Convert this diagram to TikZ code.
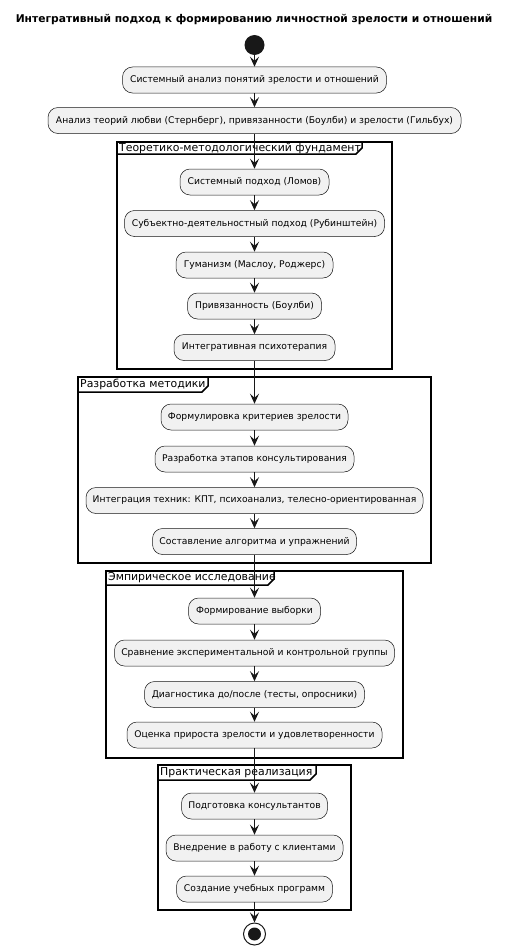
\documentclass[tikz,border=0pt]{standalone}
\usepackage{fontspec}
\setmainfont{DejaVu Sans}
\usetikzlibrary{arrows.meta}
\definecolor{boxfill}{HTML}{F1F1F1}
\definecolor{boxline}{HTML}{181818}
\begin{document}
\begin{tikzpicture}[x=1pt,y=-1pt,
  act/.style={draw=boxline,line width=0.5pt,fill=boxfill,rounded corners=10pt,
    minimum height=26pt,inner xsep=0pt,inner ysep=0pt,font=\fontsize{9.2}{11}\selectfont,anchor=center},
  flow/.style={draw=boxline,line width=1pt,-{Stealth[length=10pt,width=9pt,inset=4pt]}},
  frame/.style={draw=black,line width=1.5pt},
  glabel/.style={font=\fontsize{10.9}{13}\selectfont,anchor=west,inner sep=0pt}]
\useasboundingbox (0,0) rectangle (508,950);
\fill[white] (0,0) rectangle (508,950);
\node[font=\bfseries\fontsize{10.7}{13}\selectfont] (title) at (254,20) {Интегративный подход к формированию личностной зрелости и отношений};
\node[circle,fill=boxline,minimum size=20pt,inner sep=0pt] (start) at (254.5,45) {};
% groups
\draw[frame] (117,142) rectangle (392,369);
\draw[frame] (117,142) -- (362,142) -- (362,148) -- (356,154) -- (117,154);
\node[glabel] (g1) at (119,148.5) {Теоретико-методологический фундамент};
\draw[frame] (78,377) rectangle (431,563);
\draw[frame] (78,377) -- (208,377) -- (208,386) -- (202,392) -- (78,392);
\node[glabel] (g2) at (80,384.5) {Разработка методики};
\draw[frame] (106,571) rectangle (403,758);
\draw[frame] (106,571) -- (274,571) -- (274,579) -- (268,585) -- (106,585);
\node[glabel] (g3) at (108,578) {Эмпирическое исследование};
\draw[frame] (158,765) rectangle (351,910);
\draw[frame] (158,765) -- (316,765) -- (316,774) -- (310,780) -- (158,780);
\node[glabel] (g4) at (160,772.5) {Практическая реализация};
% activities
\node[act,minimum width=264pt] (n1) at (254.5,80) {Системный анализ понятий зрелости и отношений};
\node[act,minimum width=413pt] (n2) at (254.5,120.5) {Анализ теорий любви (Стернберг), привязанности (Боулби) и зрелости (Гильбух)};
\node[act,minimum width=149pt] (a1) at (254.5,182) {Системный подход (Ломов)};
\node[act,minimum width=260pt] (a2) at (254.5,223.5) {Субъектно-деятельностный подход (Рубинштейн)};
\node[act,minimum width=157pt] (a3) at (254.5,265) {Гуманизм (Маслоу, Роджерс)};
\node[act,minimum width=134pt] (a4) at (254.5,306) {Привязанность (Боулби)};
\node[act,minimum width=161pt] (a5) at (254.5,347.5) {Интегративная психотерапия};
\node[act,minimum width=187pt] (b1) at (254.5,417) {Формулировка критериев зрелости};
\node[act,minimum width=199pt] (b2) at (254.5,459) {Разработка этапов консультирования};
\node[act,minimum width=337pt] (b3) at (254.5,500.5) {Интеграция техник: КПТ, психоанализ, телесно-ориентированная};
\node[act,minimum width=204pt] (b4) at (254.5,541.5) {Составление алгоритма и упражнений};
\node[act,minimum width=132pt] (c1) at (254.5,611) {Формирование выборки};
\node[act,minimum width=280pt] (c2) at (254.5,653) {Сравнение экспериментальной и контрольной группы};
\node[act,minimum width=220pt] (c3) at (254.5,694.5) {Диагностика до/после (тесты, опросники)};
\node[act,minimum width=255pt] (c4) at (254.5,735) {Оценка прироста зрелости и удовлетворенности};
\node[act,minimum width=146pt] (d1) at (254.5,806) {Подготовка консультантов};
\node[act,minimum width=177pt] (d2) at (254.5,848) {Внедрение в работу с клиентами};
\node[act,minimum width=156pt] (d3) at (254.5,889) {Создание учебных программ};
\node[circle,draw=boxline,line width=1pt,fill=white,minimum size=22pt,inner sep=0pt] (stop) at (254.5,934) {};
\fill[boxline] (stop.center) circle (6.5pt);
% flows
\foreach \p/\q in {start/n1,n1/n2,n2/a1,a1/a2,a2/a3,a3/a4,a4/a5,a5/b1,b1/b2,b2/b3,b3/b4,b4/c1,c1/c2,c2/c3,c3/c4,c4/d1,d1/d2,d2/d3,d3/stop}
  \draw[flow] (\p) -- (\q);
\end{tikzpicture}
\end{document}
